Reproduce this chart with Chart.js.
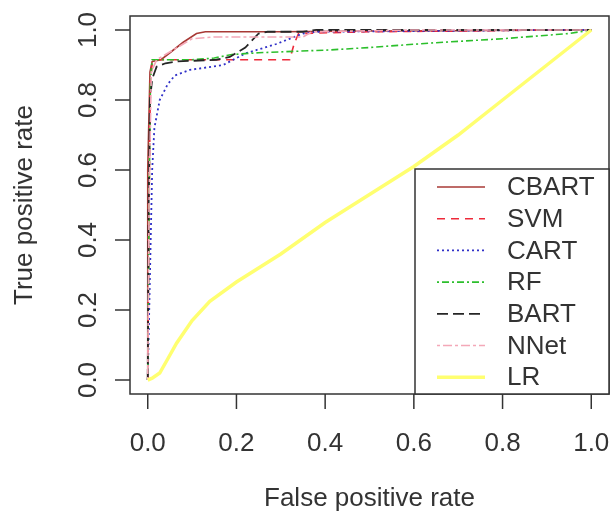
<!DOCTYPE html>
<html>
<head>
<meta charset="utf-8">
<script src="https://cdn.jsdelivr.net/npm/chart.js@4.4.1/dist/chart.umd.min.js"></script>
<style>
  html, body { margin: 0; padding: 0; background: #fff; }
  #roc { display: block; }
</style>
</head>
<body>
<canvas id="roc" width="611" height="521"></canvas>
<script>
// ROC curves (false positive rate -> true positive rate)
const modelNames = ['CBART', 'SVM', 'CART', 'RF', 'BART', 'NNet', 'LR'];

const cbartFpr = [0, 0, 0.005, 0.01, 0.03, 0.05, 0.08, 0.11, 0.13, 0.3, 0.5, 0.7, 0.9, 1];
const cbartTpr = [0, 0.6, 0.88, 0.91, 0.915, 0.935, 0.965, 0.99, 0.995, 0.995, 0.997, 0.998, 1, 1];

const svmFpr = [0, 0.003, 0.006, 0.01, 0.02, 0.1, 0.2, 0.32, 0.33, 0.34, 0.5, 0.7, 0.9, 1];
const svmTpr = [0, 0.5, 0.85, 0.905, 0.915, 0.915, 0.915, 0.915, 0.96, 0.99, 0.995, 0.997, 1, 1];

const cartFpr = [0, 0.005, 0.01, 0.015, 0.027, 0.045, 0.061, 0.095, 0.17, 0.22, 0.29, 0.35, 0.38, 0.6, 0.9, 1];
const cartTpr = [0, 0.3, 0.6, 0.72, 0.8, 0.845, 0.87, 0.886, 0.9, 0.933, 0.96, 0.99, 0.995, 0.997, 1, 1];

const rfFpr = [0, 0.003, 0.006, 0.01, 0.05, 0.1, 0.15, 0.19, 0.25, 0.41, 0.5, 0.64, 0.8, 0.95, 1];
const rfTpr = [0, 0.5, 0.85, 0.915, 0.915, 0.915, 0.92, 0.93, 0.935, 0.943, 0.95, 0.963, 0.975, 0.99, 1];

const bartFpr = [0, 0.002, 0.005, 0.01, 0.02, 0.04, 0.065, 0.155, 0.185, 0.22, 0.25, 0.27, 0.35, 0.38, 0.6, 0.9, 1];
const bartTpr = [0, 0.5, 0.8, 0.86, 0.895, 0.905, 0.91, 0.915, 0.923, 0.95, 0.99, 0.995, 0.995, 1, 1, 1, 1];

const nnetFpr = [0, 0.003, 0.008, 0.02, 0.04, 0.08, 0.1, 0.15, 0.25, 0.35, 0.37, 0.6, 1];
const nnetTpr = [0, 0.5, 0.88, 0.915, 0.93, 0.96, 0.975, 0.98, 0.98, 0.98, 0.995, 1, 1];

const lrFpr = [0, 0.01, 0.027, 0.045, 0.065, 0.1, 0.14, 0.2, 0.3, 0.4, 0.5, 0.6, 0.7, 0.8, 0.9, 1];
const lrTpr = [0, 0.005, 0.02, 0.06, 0.105, 0.17, 0.225, 0.28, 0.36, 0.45, 0.53, 0.61, 0.7, 0.8, 0.9, 1];

const axisTicks = [0, 0.2, 0.4, 0.6, 0.8, 1.0];
const tickLabels = ['0.0', '0.2', '0.4', '0.6', '0.8', '1.0'];
const xTitle = 'False positive rate';
const yTitle = 'True positive rate';

const FONT = '26px "Liberation Sans", Arial, sans-serif';
const INK = '#333';

function pts(xs, ys) {
  return xs.map((x, i) => ({ x: x, y: ys[i] }));
}

const curves = [
  { fpr: cbartFpr, tpr: cbartTpr, color: '#a83a36', dash: [], width: 1.6 },
  { fpr: svmFpr, tpr: svmTpr, color: '#ee2a3a', dash: [8, 6], width: 1.6 },
  { fpr: cartFpr, tpr: cartTpr, color: '#3030c8', dash: [2, 3], width: 1.8 },
  { fpr: rfFpr, tpr: rfTpr, color: '#2cbf2c', dash: [2, 3, 7, 3], width: 1.6 },
  { fpr: bartFpr, tpr: bartTpr, color: '#262626', dash: [11, 5], width: 1.8 },
  { fpr: nnetFpr, tpr: nnetTpr, color: '#f4a8b8', dash: [3, 3, 9, 3], width: 1.6 },
  { fpr: lrFpr, tpr: lrTpr, color: '#ffff70', dash: [], width: 3.5 }
];

const datasets = curves.map((c, i) => ({
  label: modelNames[i],
  data: pts(c.fpr, c.tpr),
  borderColor: c.color,
  borderDash: c.dash,
  borderWidth: c.width,
  showLine: true,
  pointRadius: 0,
  tension: 0,
  fill: false,
  order: curves.length - i   // R draws later curves on top
}));

// R style frame: box, outward ticks, rotated y labels, legend in the bottom-right corner
const rFrame = {
  id: 'rFrame',
  afterDraw(chart) {
    const ctx = chart.ctx;
    const a = chart.chartArea;
    const xs = chart.scales.x, ys = chart.scales.y;
    ctx.save();
    ctx.strokeStyle = INK;
    ctx.fillStyle = INK;
    ctx.lineWidth = 1.5;
    ctx.setLineDash([]);
    ctx.strokeRect(a.left, a.top, a.right - a.left, a.bottom - a.top);

    ctx.font = FONT;
    axisTicks.forEach((v, i) => {
      const px = xs.getPixelForValue(v);
      ctx.beginPath();
      ctx.moveTo(px, a.bottom);
      ctx.lineTo(px, a.bottom + 15);
      ctx.stroke();
      ctx.textAlign = 'center';
      ctx.textBaseline = 'alphabetic';
      ctx.fillText(tickLabels[i], px, a.bottom + 57);

      const py = ys.getPixelForValue(v);
      ctx.beginPath();
      ctx.moveTo(a.left, py);
      ctx.lineTo(a.left - 15, py);
      ctx.stroke();
      ctx.save();
      ctx.translate(a.left - 34, py);
      ctx.rotate(-Math.PI / 2);
      ctx.fillText(tickLabels[i], 0, 0);
      ctx.restore();
    });

    ctx.textAlign = 'center';
    ctx.fillText(xTitle, (a.left + a.right) / 2, a.bottom + 112);
    ctx.save();
    ctx.translate(a.left - 98, (a.top + a.bottom) / 2);
    ctx.rotate(-Math.PI / 2);
    ctx.fillText(yTitle, 0, 0);
    ctx.restore();

    // legend
    const ds = chart.data.datasets;
    const lw = 194, lh = 225;
    const lx = a.right - lw, ly = a.bottom - lh;
    ctx.fillStyle = '#fff';
    ctx.fillRect(lx, ly, lw, lh);
    ctx.strokeStyle = INK;
    ctx.lineWidth = 1.5;
    ctx.strokeRect(lx, ly, lw, lh);
    const step = 31.7;
    ds.forEach((d, i) => {
      const cy = ly + 18 + i * step;
      ctx.beginPath();
      ctx.strokeStyle = d.borderColor;
      ctx.lineWidth = d.borderWidth;
      ctx.setLineDash(d.borderDash);
      ctx.moveTo(lx + 22, cy);
      ctx.lineTo(lx + 70, cy);
      ctx.stroke();
      ctx.setLineDash([]);
      ctx.fillStyle = INK;
      ctx.textAlign = 'left';
      ctx.textBaseline = 'middle';
      ctx.fillText(d.label, lx + 92, cy + 1);
    });
    ctx.restore();
  }
};

new Chart(document.getElementById('roc'), {
  type: 'scatter',
  data: { datasets: datasets },
  options: {
    responsive: false,
    animation: false,
    layout: { padding: { left: 130, right: 2, top: 16, bottom: 127 } },
    plugins: { legend: { display: false }, tooltip: { enabled: false } },
    scales: {
      x: { type: 'linear', min: -0.04, max: 1.04, display: false },
      y: { type: 'linear', min: -0.04, max: 1.04, display: false }
    }
  },
  plugins: [rFrame]
});
</script>
</body>
</html>
